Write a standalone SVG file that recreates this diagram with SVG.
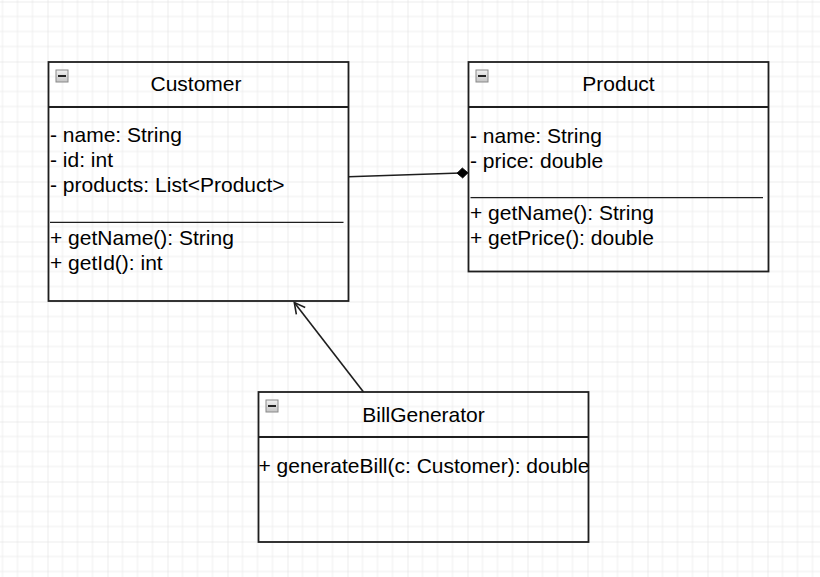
<svg xmlns="http://www.w3.org/2000/svg" xmlns:xlink="http://www.w3.org/1999/xlink" width="820" height="577" viewBox="0 0 820 577">
<style>
  .box { fill: none; stroke: #1e1e1e; stroke-width: 1.8; }
  .sep { fill: none; stroke: #1e1e1e; stroke-width: 1.3; }
  .title { font-family: "Liberation Sans", Arial, sans-serif; font-size: 21px; fill: #000; text-anchor: middle; }
  .member { font-family: "Liberation Sans", Arial, sans-serif; font-size: 21px; fill: #000; }
  .edge { fill: none; stroke: #1e1e1e; stroke-width: 1.6; }
</style>
<defs>
  <pattern id="grid" x="47.5" y="61.5" width="60" height="60" patternUnits="userSpaceOnUse">
    <path d="M15 0V60M30 0V60M45 0V60M0 15H60M0 30H60M0 45H60" stroke="#eeeeee" stroke-width="1" fill="none"/>
    <path d="M0 0V60M0 0H60" stroke="#dcdcdc" stroke-width="1" fill="none"/>
  </pattern>
  <linearGradient id="iconGrad" x1="0" y1="0" x2="0" y2="1">
    <stop offset="0" stop-color="#f2f2f2"/>
    <stop offset="1" stop-color="#c4c4c4"/>
  </linearGradient>
  <g id="collapse">
    <rect x="0.5" y="0.5" width="12" height="12" fill="url(#iconGrad)" stroke="#8a8a8a" stroke-width="1"/>
    <rect x="2.5" y="5.5" width="8" height="2" fill="#222"/>
  </g>
  <marker id="diamond" markerUnits="userSpaceOnUse" markerWidth="12" markerHeight="12" refX="0" refY="0" orient="auto" overflow="visible">
    <path d="M0 0L-5.5 -5L-11 0L-5.5 5Z" fill="#000" stroke="#000" stroke-width="0.8"/>
  </marker>
  <marker id="openArrow" markerUnits="userSpaceOnUse" markerWidth="12" markerHeight="12" refX="0" refY="0" orient="auto" overflow="visible">
    <path d="M-10.6 -5.6L0 0L-10.6 5.6" fill="none" stroke="#1e1e1e" stroke-width="1.6"/>
  </marker>
</defs>
<rect x="0" y="0" width="820" height="577" fill="#ffffff"/>
<rect x="0" y="0" width="820" height="577" fill="url(#grid)"/>

<g id="connectors">
  <path class="edge" d="M348.5 176.7L468 172.8" marker-end="url(#diamond)"/>
  <path class="edge" d="M363.5 392L294.3 302.5" marker-end="url(#openArrow)"/>
</g>

<g id="customer">
  <rect class="box" x="48.5" y="62" width="300" height="239"/>
  <line class="box" x1="48.5" y1="107" x2="348.5" y2="107"/>
  <use xlink:href="#collapse" x="55.5" y="69.5"/>
  <text class="title" x="196" y="91">Customer</text>
  <text class="member" x="50" y="142">- name: String</text>
  <text class="member" x="50" y="167">- id: int</text>
  <text class="member" x="50" y="192">- products: List&lt;Product&gt;</text>
  <line class="sep" x1="50" y1="222.3" x2="343.5" y2="222.3"/>
  <text class="member" x="50" y="245">+ getName(): String</text>
  <text class="member" x="50" y="270">+ getId(): int</text>
</g>

<g id="product">
  <rect class="box" x="468.5" y="62" width="300" height="209.5"/>
  <line class="box" x1="468.5" y1="107" x2="768.5" y2="107"/>
  <use xlink:href="#collapse" x="475.5" y="69.5"/>
  <text class="title" x="618.5" y="91">Product</text>
  <text class="member" x="470" y="143">- name: String</text>
  <text class="member" x="470" y="168">- price: double</text>
  <line class="sep" x1="470.5" y1="197.7" x2="763" y2="197.7"/>
  <text class="member" x="470" y="219.5">+ getName(): String</text>
  <text class="member" x="470" y="244.5">+ getPrice(): double</text>
</g>

<g id="billgenerator">
  <rect class="box" x="258.5" y="392" width="330" height="150"/>
  <line class="box" x1="258.5" y1="437" x2="588.5" y2="437"/>
  <use xlink:href="#collapse" x="265.5" y="399.5"/>
  <text class="title" x="423.5" y="422">BillGenerator</text>
  <text class="member" x="258.5" y="473.3">+ generateBill(c: Customer): double</text>
</g>
</svg>
